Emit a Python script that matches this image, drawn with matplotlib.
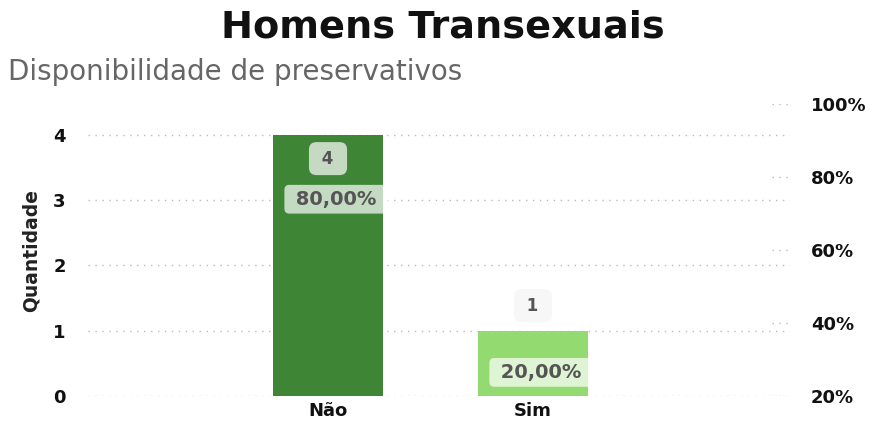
import matplotlib.pyplot as plt
import numpy as np

categorias = ['Não', 'Sim']
quantidade = [4, 1]
percentual = [80.0, 20.0]
cores = ['#3E8635', '#93DB70']

plt.rcParams['font.family'] = ['DejaVu Sans']

fig = plt.figure(figsize=(8.75, 4.23), dpi=100)
ax = fig.add_axes([88 / 875, 27 / 423, 702 / 875, 292 / 423])

x = np.arange(len(categorias))
ax.bar(x, quantidade, width=0.537, color=cores, zorder=2)

ax.set_xlim(-1.171, 2.254)
ax.set_ylim(0, 4.475)
ax.set_yticks([0, 1, 2, 3, 4])
ax.set_xticks(x)
ax.set_xticklabels(categorias, fontsize=13, fontweight='bold', color='#111111')
ax.tick_params(axis='x', length=0, pad=4)
ax.tick_params(axis='y', length=0, pad=16, labelsize=13, labelcolor='#111111')
for t in ax.get_yticklabels():
    t.set_fontweight('bold')
ax.grid(axis='y', linestyle=(0, (1, 4)), color='#bbbbbb', linewidth=1, zorder=0)
for s in ax.spines.values():
    s.set_visible(False)

ax.set_ylabel('Quantidade', fontsize=13.5, fontweight='bold', color='#222222')
ax.yaxis.set_label_coords(-0.068, 0.5)

# eixo secundário com o percentual
ax2 = ax.twinx()
ax2.set_ylim(20, 100)
ticks_pct = [20, 40, 60, 80, 100]
ax2.set_yticks(ticks_pct)
ax2.set_yticklabels([f'{v}%' for v in ticks_pct])
ax2.tick_params(axis='y', length=0, pad=15, labelsize=13, labelcolor='#111111')
for t in ax2.get_yticklabels():
    t.set_fontweight('bold')
for v in ticks_pct:
    ax2.axhline(v, xmin=0.975, xmax=1.0, linestyle=(0, (1, 4)),
                color='#bbbbbb', linewidth=1)
for s in ax2.spines.values():
    s.set_visible(False)

# rótulos de quantidade
caixa_q = [dict(boxstyle='round,pad=0.45', fc='#C5D9C3', ec='none'),
           dict(boxstyle='round,pad=0.45', fc='#f7f7f7', ec='none')]
for xi, q, c in zip(x, quantidade, caixa_q):
    dy = -17 if q == max(quantidade) else 18
    ax.annotate(f' {q} ', (xi, q), xytext=(0, dy), textcoords='offset points',
                ha='center', va='center', fontsize=12, fontweight='bold',
                color='#555555', bbox=c, zorder=5)

# rótulos de percentual
for xi, p in zip(x, percentual):
    dy = -16 if p >= 50 else 17
    ax2.annotate(' ' + f'{p:.2f}%'.replace('.', ',') + ' ', (xi, p),
                 xytext=(6, dy), textcoords='offset points', ha='center',
                 va='center', fontsize=14, fontweight='bold', color='#555555',
                 bbox=dict(boxstyle='round,pad=0.25', fc='#ffffff', alpha=0.7,
                           ec='none'), zorder=5)

fig.text(0.506, 0.935, 'Homens Transexuais', ha='center', va='center',
         fontsize=27.5, fontweight='bold', color='#111111')
fig.text(0.009, 0.83, 'Disponibilidade de preservativos', ha='left',
         va='center', fontsize=20, color='#666666')

fig.savefig('out.png', dpi=100)
